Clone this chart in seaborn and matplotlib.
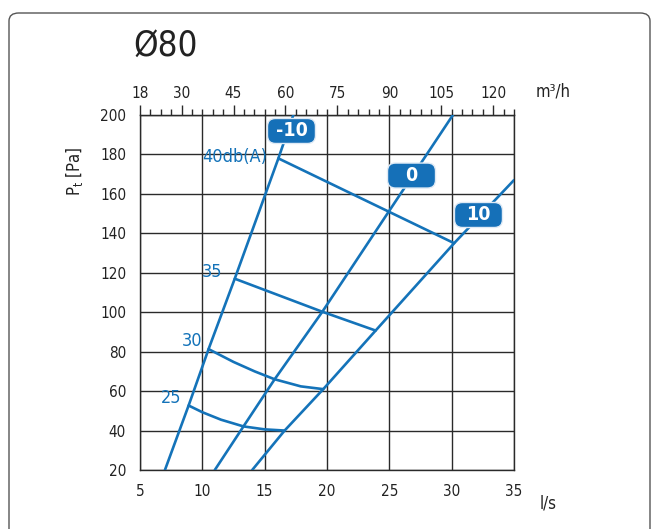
import matplotlib
matplotlib.use("Agg")
import matplotlib.pyplot as plt
import seaborn as sns
from matplotlib.patches import FancyBboxPatch
from matplotlib.ticker import MultipleLocator, FixedLocator

# damper settings (straight-ish system lines)
damper_labels = ["-10", "0", "10"]
m10_x = [7.0, 8.9, 10.5, 12.6, 16.1, 17.3]
m10_y = [20, 52.7, 81.3, 117, 178, 200]
d0_x = [11.0, 13.3, 15.8, 19.6, 24.95, 30.1]
d0_y = [20, 42.1, 66, 100, 151, 200]
p10_x = [14.0, 16.6, 19.7, 23.9, 30.2, 35.0]
p10_y = [20, 40, 61, 90.7, 135, 167]

# noise level curves
noise_labels = ["25", "30", "35", "40db(A)"]
n25_x = [8.9, 10.0, 11.5, 13.3, 15.0, 16.6]
n25_y = [52.7, 49.3, 45.5, 42.1, 40.6, 40.0]
n30_x = [10.5, 12.5, 14.2, 15.8, 17.9, 19.7]
n30_y = [81.3, 74.8, 70.0, 66.0, 62.4, 61.0]
n35_x = [12.6, 19.6, 23.9]
n35_y = [117, 100.3, 90.7]
n40_x = [16.1, 24.95, 30.2]
n40_y = [178, 151, 135]

top_ticks = [18, 30, 45, 60, 75, 90, 105, 120]

blue = "#1473b9"
ink = "#222222"

sns.set_style("white")
plt.rcParams["font.family"] = ["DejaVu Sans"]
plt.rcParams["font.stretch"] = "condensed"

fig = plt.figure(figsize=(6.52, 5.29), dpi=100)
ax = fig.add_axes([140 / 652, 1 - 470 / 529, 374 / 652, 355 / 529])

for xs, ys in [(m10_x, m10_y), (d0_x, d0_y), (p10_x, p10_y),
               (n25_x, n25_y), (n30_x, n30_y), (n35_x, n35_y), (n40_x, n40_y)]:
    sns.lineplot(x=xs, y=ys, ax=ax, color=blue, lw=1.9, sort=False,
                 estimator=None, zorder=3)

ax.set_xlim(5, 35)
ax.set_ylim(20, 200)
ax.xaxis.set_major_locator(MultipleLocator(5))
ax.xaxis.set_minor_locator(MultipleLocator(1))
ax.yaxis.set_major_locator(MultipleLocator(20))
ax.yaxis.set_minor_locator(MultipleLocator(5))
ax.grid(True, which="major", color="#2a2a2a", lw=1.0, zorder=1)
for s in ax.spines.values():
    s.set_color("#2a2a2a")
    s.set_linewidth(1.0)
ax.tick_params(which="major", direction="out", length=7, width=1.0,
               color="#2a2a2a", labelsize=11, labelcolor=ink, pad=3)
ax.tick_params(which="minor", direction="out", length=4, width=1.0,
               color="#2a2a2a")

# top axis in m3/h
top = ax.secondary_xaxis("top", functions=(lambda v: v * 3.6, lambda v: v / 3.6))
top.xaxis.set_major_locator(FixedLocator(top_ticks))
top.xaxis.set_minor_locator(MultipleLocator(3))
top.tick_params(which="major", direction="out", length=7, width=1.0,
                color="#2a2a2a", labelsize=11, labelcolor=ink, pad=3)
top.tick_params(which="minor", direction="out", length=4, width=1.0,
                color="#2a2a2a")
top.spines["top"].set_color("#2a2a2a")

ax.set_xlabel("")
ax.set_ylabel("")
ax.text(1.091, -0.093, "l/s", transform=ax.transAxes, fontsize=12, color=ink,
        ha="center", va="center")
ax.text(1.105, 1.065, "m³/h", transform=ax.transAxes, fontsize=12, color=ink,
        ha="center", va="center")
ax.text(-0.176, 0.842, "P$_\\mathregular{t}$ [Pa]", transform=ax.transAxes,
        fontsize=12, color=ink, rotation=90, ha="center", va="center")

# noise labels
ax.text(8.3, 56.5, noise_labels[0], color=blue, fontsize=13, ha="right", va="center")
ax.text(10.0, 85.5, noise_labels[1], color=blue, fontsize=13, ha="right", va="center")
ax.text(11.6, 120.5, noise_labels[2], color=blue, fontsize=13, ha="right", va="center")
ax.text(15.2, 178.5, noise_labels[3], color=blue, fontsize=13, ha="right", va="center")

# damper boxes, fixed size in data units (48 x 25 px)
px_x = 374 / 30
px_y = 355 / 180
bw, bh = 48 / px_x, 25 / px_y
for lab, bx, by in zip(damper_labels, [17.15, 26.78, 32.15], [191.9, 169.3, 149.3]):
    box = FancyBboxPatch((bx - bw / 2, by - bh / 2), bw, bh,
                         boxstyle="round,pad=0,rounding_size=%f" % (8 / px_x),
                         mutation_aspect=px_x / px_y,
                         fc="#1570b8", ec="#dfeaf5", lw=1.0, zorder=4)
    ax.add_patch(box)
    ax.text(bx, by, lab, color="white", fontsize=14, fontweight="bold",
            ha="center", va="center", zorder=5)

# title and frame
fig.text(133 / 652, 1 - 46 / 529, "Ø80", fontsize=25, color=ink,
         ha="left", va="center")
frame = FancyBboxPatch((9 / 652, -0.05), 641 / 652, 0.05 + 1 - 13 / 529,
                       boxstyle="round,pad=0,rounding_size=0.015",
                       transform=fig.transFigure, fc="none", ec="#555555",
                       lw=1.0)
fig.patches.append(frame)

fig.savefig("out.png", dpi=100)
